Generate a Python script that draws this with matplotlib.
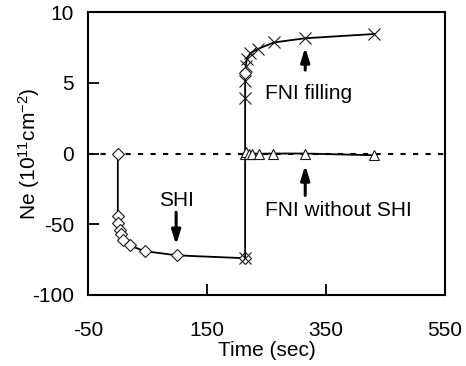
import numpy as np
import matplotlib
matplotlib.use("Agg")
import matplotlib.pyplot as plt

plt.rcParams['font.family'] = ['Liberation Sans', 'DejaVu Sans']
plt.rcParams['mathtext.fontset'] = 'custom'
plt.rcParams['mathtext.rm'] = 'Liberation Sans'
plt.rcParams['mathtext.it'] = 'Liberation Sans:italic'
plt.rcParams['mathtext.bf'] = 'Liberation Sans:bold'

# SHI series (diamonds)
shi_x = [0, 0, 1, 3, 5, 9, 20, 45, 100, 214]
shi_y = [0, -44, -49, -54, -57, -61, -65, -69, -72, -74]

# FNI filling series (crosses)
fill_x = [214, 214, 214, 215, 217, 223, 236, 262, 315, 431]
fill_y = [-74, 3.9, 5.1, 6.2, 6.7, 7.1, 7.4, 7.85, 8.15, 8.45]

# stray diamond on the filling rise
extra_x = [214]
extra_y = [5.7]

# FNI without SHI series (triangles)
wo_x = [214, 215, 220, 226, 237, 260, 314, 431]
wo_y = [0, 0.1, 0, 0, -0.2, 0, 0, -1.2]

xticks = [-50, 150, 350, 550]
yticks = [-100, -50, 0, 5, 10]


def fwd(y):
    y = np.asarray(y, dtype=float)
    return np.where(y >= 0, y, y / 10.0)


def inv(y):
    y = np.asarray(y, dtype=float)
    return np.where(y >= 0, y, y * 10.0)


fig = plt.figure(figsize=(4.66, 3.66), dpi=100)
ax = fig.add_axes([0.189, 0.194, 0.766, 0.773])
ax.set_yscale('function', functions=(fwd, inv))

FS = 15
lw = 1.3
mk = dict(markerfacecolor='white', markeredgecolor='#1a1a1a', markeredgewidth=0.8)

ax.axhline(0, color='black', lw=1.5, ls=(0, (2.5, 3.5)), zorder=1)

ax.plot(shi_x, shi_y, color='black', lw=lw, marker='D', markersize=6, zorder=3, **mk)
ax.plot(fill_x, fill_y, color='black', lw=lw, marker='x', markersize=8, zorder=3,
        markeredgecolor='#1a1a1a', markeredgewidth=0.8)
ax.plot(extra_x, extra_y, ls='none', marker='D', markersize=6, zorder=4, **mk)
ax.plot(wo_x, wo_y, color='black', lw=lw, marker='^', markersize=7, zorder=3, **mk)

ax.set_xlim(-50, 550)
ax.set_ylim(-100, 10)
ax.set_xticks(xticks)
ax.set_xticklabels([str(t) for t in xticks])
ax.set_yticks(yticks)
ax.set_yticklabels([str(t) for t in yticks])
ax.tick_params(axis='x', direction='in', length=8, width=1.3, pad=19, labelsize=FS)
ax.tick_params(axis='y', direction='in', length=8, width=1.3, pad=10, labelsize=FS)
for s in ax.spines.values():
    s.set_linewidth(1.5)

ax.set_xlabel('Time (sec)', fontsize=FS)
ax.xaxis.set_label_coords(0.5, -0.163)
ax.set_ylabel('Ne (10$^{11}$cm$^{-2}$)', fontsize=FS)
ax.yaxis.set_label_coords(-0.13, 0.5)

ap = dict(arrowstyle='-|>,head_length=0.7,head_width=0.22', color='black', lw=2.2,
          mutation_scale=12, shrinkA=0, shrinkB=0)
ax.annotate('', xy=(98, -64.5), xytext=(98, -41.5), arrowprops=ap)
ax.text(98, -33, 'SHI', fontsize=FS, ha='center', va='center')

ax.annotate('', xy=(315, 7.5), xytext=(315, 5.9), arrowprops=ap)
ax.text(248, 4.25, 'FNI filling', fontsize=FS, ha='left', va='center')

ax.annotate('', xy=(315, -8.4), xytext=(315, -29.6), arrowprops=ap)
ax.text(248, -40, 'FNI without SHI', fontsize=FS, ha='left', va='center')

fig.savefig('out.png', dpi=100)
